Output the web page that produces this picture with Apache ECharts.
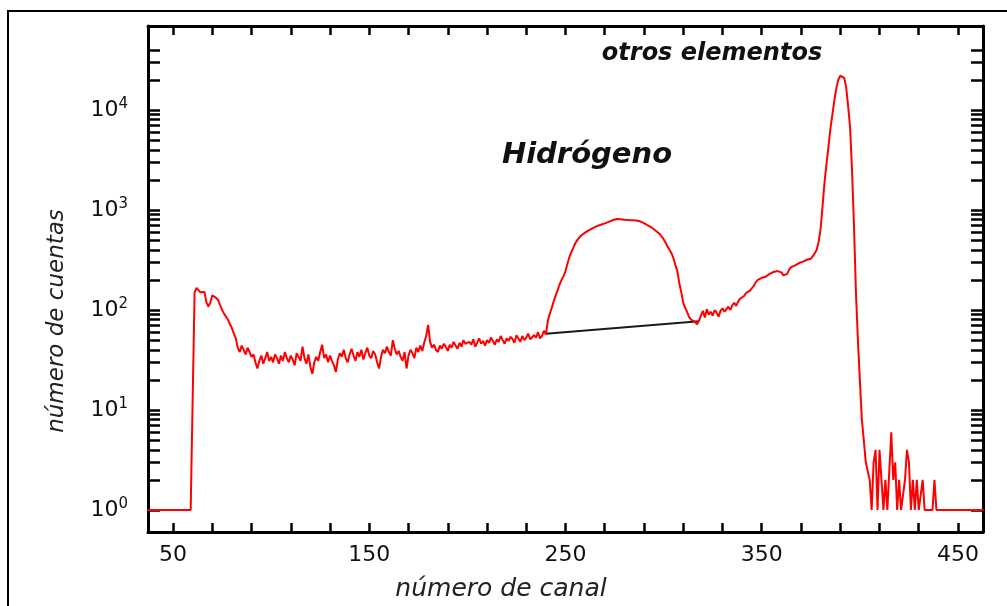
<!DOCTYPE html>
<html><head><meta charset="utf-8">
<script src="https://cdn.jsdelivr.net/npm/echarts@6/dist/echarts.min.js"></script>
<style>html,body{margin:0;padding:0;background:#fff}#c{width:1007px;height:606px}</style>
</head><body><div id="c"></div>
<script>
// ---- data (counts per channel) ----
const firstChannel = 37;
// ch 37-60
const segFloor = [1,1,1,1,1,1,1,1,1,1,1,1,1,1,1,1,1,1,1,1,1,1,1,1];
// ch 61-90
const segEdge = [150,166,158,150,148,152,120,108,118,140,138,132,126,112,100,92,88,80,72,66,58,52,42,38,44,40,36,42,38,34];
// ch 91-240
const segPlateau = [
 36,30,26,31,35,29,33,38,31,34,
 30,36,33,29,35,31,38,33,30,35,
 32,28,37,34,31,43,33,29,36,27,
 23,30,34,31,38,45,33,36,30,35,
 31,28,24,32,37,34,40,33,30,36,
 41,35,31,38,34,40,32,37,42,35,
 33,39,36,30,26,34,40,37,43,38,
 35,50,41,36,39,34,31,38,26,35,
 40,37,33,42,38,44,39,47,55,71,
 48,42,45,40,38,44,41,46,43,39,
 45,42,48,44,41,47,43,50,46,44,
 48,45,51,43,47,52,46,49,44,50,
 47,53,49,45,51,48,55,50,46,52,
 49,54,51,47,56,52,48,55,50,53,
 58,51,49,56,53,60,52,55,62,57];
// ch 241-320 (hydrogen)
const segHydrogen = [
 78,92,105,122,140,158,180,200,218,245,
 290,339,380,420,465,500,530,555,575,595,
 615,630,645,660,672,690,700,712,720,735,
 745,760,775,790,800,812,815,810,805,800,
 795,795,795,792,790,785,780,770,760,740,
 720,700,680,665,640,620,600,575,545,510,
 470,430,400,370,330,280,245,185,150,118,
 105,95,85,80,78,76,72,78,88,98];
// ch 321-380
const segShoulder = [
 84,102,90,96,88,100,94,86,98,104,
 96,102,108,100,112,118,110,122,130,126,
 138,148,142,156,165,175,190,200,205,210,
 208,215,225,230,235,240,238,245,250,238,
 222,215,230,255,268,272,280,290,295,300,
 305,312,318,316,325,345,370,400,480,650];
// ch 381-403 (otros elementos)
const segPeak = [1100,1900,2900,4300,6500,9000,12500,16500,20000,22000,22400,21000,17000,11000,6800,2500,700,150,50,20,8,5,3];
// ch 404-463
const segTail = [
 3,2,1,3,4,1,4,4,1,2,
 1,1,6,2,3,1,2,1,1,2,
 4,3,1,2,1,2,1,1,2,1,
 1,1,1,1,2,1,1,1,1,1,
 1,1,1,1,1,1,1,1,1,1,
 1,1,1,1,1,1,1,1,1,1];
// background line under the hydrogen peak
const bgChannels = [240, 318];
const bgCounts = [58, 77];
// axes
const xMin = 37.26, xMax = 462.74;
const xTickValues = [50,70,90,110,130,150,170,190,210,230,250,270,290,310,330,350,370,390,410,430,450];
const xLabelValues = [50,150,250,350,450];
const yLogMin = -0.22, yLogMax = 4.84;
const yTickCounts = [1,2,3,4,5,6,7,8,9,10,20,30,40,50,60,70,80,90,100,200,300,400,500,600,700,800,900,1000,2000,3000,4000,5000,6000,7000,8000,9000,10000,20000,30000,40000];
const yLabelExponents = [0,1,2,3,4];

// ---- build ----
const counts = [].concat(segFloor, segEdge, segPlateau, segHydrogen, segShoulder, segPeak, segTail);
const spectrum = counts.map((v, i) => [firstChannel + i, v]);
const background = bgChannels.map((c, i) => [c, bgCounts[i]]);
const yTickLogs = yTickCounts.map(v => Math.log10(v));

const AX = {color:'#000', width:3};
const TK = {color:'#000', width:2.5};
const font = 'DejaVu Sans';

const chart = echarts.init(document.getElementById('c'), null, {renderer:'canvas'});
chart.setOption({
  animation:false,
  backgroundColor:'#fff',
  grid:{left:148, top:26, right:24, bottom:74},
  xAxis:[
    {type:'value', position:'bottom', min:xMin, max:xMax,
     axisLine:{show:true, onZero:false, lineStyle:AX},
     axisTick:{show:true, inside:true, length:9, customValues:xTickValues, lineStyle:TK},
     axisLabel:{show:true, customValues:xLabelValues, margin:12, color:'#111', fontSize:22, fontFamily:font},
     splitLine:{show:false}},
    {type:'value', position:'top', min:xMin, max:xMax,
     axisLine:{show:true, onZero:false, lineStyle:AX},
     axisTick:{show:true, inside:true, length:9, customValues:xTickValues, lineStyle:TK},
     axisLabel:{show:false}, splitLine:{show:false}}
  ],
  yAxis:[
    {type:'log', logBase:10, min:Math.pow(10,yLogMin), max:Math.pow(10,yLogMax), show:false,
     axisLine:{show:false}, axisTick:{show:false}, axisLabel:{show:false}, splitLine:{show:false}},
    {type:'value', position:'left', min:yLogMin, max:yLogMax,
     axisLine:{show:true, onZero:false, lineStyle:AX},
     axisTick:{show:true, inside:true, length:12, customValues:yTickLogs, lineStyle:TK},
     axisLabel:{show:true, customValues:yLabelExponents, margin:20,
       formatter:function(v){return '{b|10}{s|' + Math.round(v) + '}';},
       rich:{b:{fontSize:22, fontFamily:font, color:'#111', lineHeight:26},
             s:{fontSize:15, fontFamily:font, color:'#111', verticalAlign:'top', lineHeight:15}}},
     splitLine:{show:false}},
    {type:'value', position:'right', min:yLogMin, max:yLogMax,
     axisLine:{show:true, onZero:false, lineStyle:AX},
     axisTick:{show:true, inside:true, length:12, customValues:yTickLogs, lineStyle:TK},
     axisLabel:{show:false}, splitLine:{show:false}}
  ],
  series:[
    {type:'line', name:'fondo', xAxisIndex:0, yAxisIndex:0, data:background, symbol:'none',
     lineStyle:{color:'#1a1a1a', width:2}, z:2},
    {type:'line', name:'espectro', xAxisIndex:0, yAxisIndex:0, data:spectrum, symbol:'none',
     lineStyle:{color:'#ff0000', width:2}, z:3}
  ],
  graphic:[
    {type:'rect', silent:true, z:-10, shape:{x:8, y:11, width:1100, height:700},
     style:{fill:'none', stroke:'#000', lineWidth:2}},
    {type:'text', x:712, y:54, style:{text:'otros elementos', fontFamily:font, fontSize:24, fontStyle:'italic', fontWeight:'bold', fill:'#111', align:'center', verticalAlign:'middle'}},
    {type:'text', x:587, y:155, style:{text:'Hidrógeno', fontFamily:font, fontSize:29, fontStyle:'italic', fontWeight:'bold', fill:'#111', align:'center', verticalAlign:'middle'}},
    {type:'text', x:501, y:589, style:{text:'número de canal', fontFamily:font, fontSize:25, fontStyle:'italic', fill:'#222', align:'center', verticalAlign:'middle'}},
    {type:'text', x:57, y:321, rotation:Math.PI/2, style:{text:'número de cuentas', fontFamily:font, fontSize:23, fontStyle:'italic', fill:'#222', align:'center', verticalAlign:'middle'}}
  ]
});
</script></body></html>
